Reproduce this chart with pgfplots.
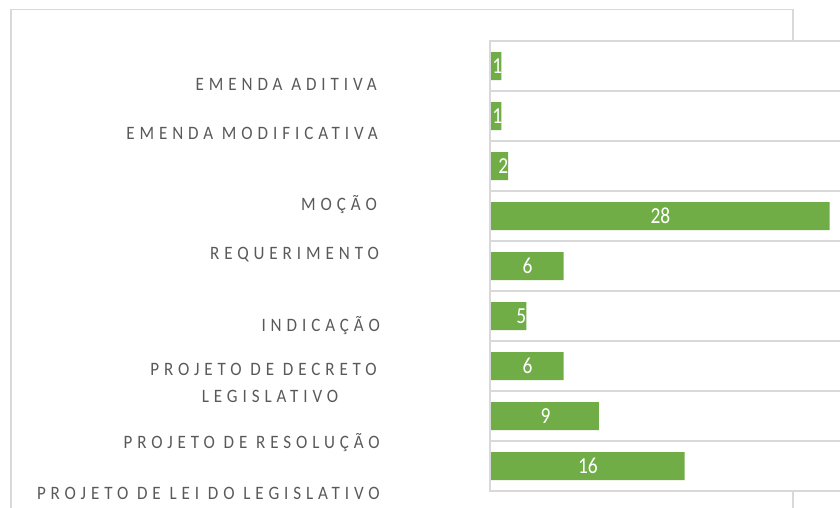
\documentclass[border=0pt]{standalone}
\usepackage{pgfplots}
\pgfplotsset{compat=1.18}
\usepackage{fontspec}
\setmainfont{Carlito}
\newfontfamily\catfont[LetterSpace=26, FakeStretch=0.9]{Carlito}
\newfontfamily\valfont[FakeStretch=0.85]{Carlito}
\definecolor{bargreen}{HTML}{70AD47}
\definecolor{gridgray}{HTML}{D9D9D9}
\definecolor{labelgray}{HTML}{595959}

\begin{document}
\begin{tikzpicture}[x=1bp, y=1bp]
  \useasboundingbox (0,0) rectangle (840,-508);
  \clip (0,0) rectangle (840,-508);
  % outer chart frame, partly hidden behind the plot area
  \draw[gridgray, line width=1.5bp] (11,-520) -- (11,-9.5) -- (793,-9.5) -- (793,-520);

  \begin{axis}[
      at={(490bp,-41bp)}, anchor=north west,
      scale only axis, width=400bp, height=450bp,
      xmin=-0.1, xmax=33,
      ymin=-0.5, ymax=8.5, y dir=reverse,
      xtick=\empty,
      ytick={-0.5,0.5,1.5,2.5,3.5,4.5,5.5,6.5,7.5,8.5},
      yticklabels={},
      ytick style={draw=none},
      ymajorgrids,
      grid style={gridgray, line width=2bp},
      axis line style={gridgray, line width=2bp},
      axis background/.style={fill=white},
    ]
    % bar lengths as drawn
    \addplot[xbar, bar width=28bp, fill=bargreen, draw=none]
      coordinates {(0.85,0) (0.85,1) (1.4,2) (28,3) (6,4) (2.9,5) (6,6) (8.9,7) (16,8)};
    % value labels
    \addplot[draw=none, nodes near coords, point meta=explicit symbolic,
        every node near coord/.append style={anchor=center, text=white,
          font=\valfont\fontsize{23}{26}\selectfont}]
      coordinates {(0.5,0) [1] (0.5,1) [1] (1,2) [2] (14,3) [28] (3,4) [6]
                   (2.5,5) [5] (3,6) [6] (4.5,7) [9] (8,8) [16]};
  \end{axis}

  \begin{scope}[every node/.style={text=labelgray, inner sep=0pt,
        font=\catfont\fontsize{19}{22}\selectfont}]
    \node[anchor=base east] at (377,-90.5) {EMENDA ADITIVA};
    \node[anchor=base east] at (378,-140) {EMENDA MODIFICATIVA};
    \node[anchor=base east] at (377,-211) {MOÇÃO};
    \node[anchor=base east] at (379,-260) {REQUERIMENTO};
    \node[anchor=base east] at (380,-332) {INDICAÇÃO};
    \node[anchor=base east] at (377,-375) {PROJETO DE DECRETO};
    \node[anchor=base] at (270,-402) {LEGISLATIVO};
    \node[anchor=base east] at (380,-448) {PROJETO DE RESOLUÇÃO};
    \node[anchor=base east] at (380,-499) {PROJETO DE LEI DO LEGISLATIVO};
  \end{scope}
\end{tikzpicture}
\end{document}
